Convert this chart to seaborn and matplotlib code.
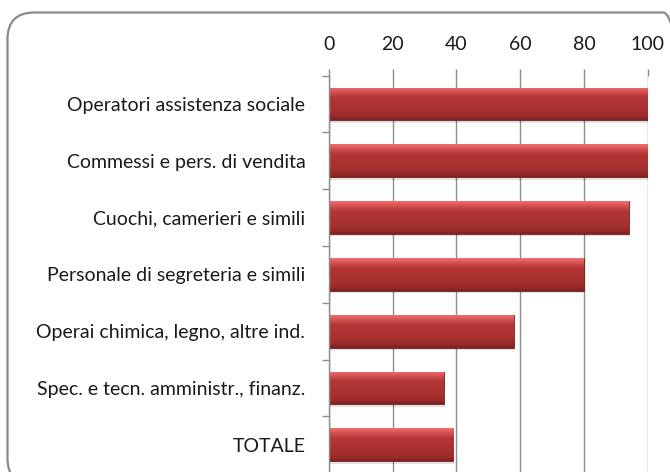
import numpy as np
import pandas as pd
import matplotlib
matplotlib.use("Agg")
import matplotlib.pyplot as plt
import seaborn as sns
from matplotlib.patches import FancyBboxPatch
from matplotlib.colors import LinearSegmentedColormap

categories = [
    "Operatori assistenza sociale",
    "Commessi e pers. di vendita",
    "Cuochi, camerieri e simili",
    "Personale di segreteria e simili",
    "Operai chimica, legno, altre ind.",
    "Spec. e tecn. amministr., finanz.",
    "TOTALE",
]
values = [100, 100, 94, 80, 58, 36, 39]
x_ticks = [0, 20, 40, 60, 80, 100]

df = pd.DataFrame({"cat": categories, "val": values})

sns.set_theme(style="white")
plt.rcParams["font.family"] = ["Lato", "DejaVu Sans"]

fig = plt.figure(figsize=(6.7, 4.72), dpi=100)
ax = fig.add_axes([0.491, -0.0025, 0.4757, 0.8423])

sns.barplot(data=df, y="cat", x="val", orient="h", color="#A93333",
            width=0.58, ax=ax, saturation=1, edgecolor="#7A2020", linewidth=0.6)

ax.set_xlim(0, 100)
ax.set_ylim(len(categories) - 0.5, -0.5)
ax.set_xticks(x_ticks)
ax.set_xticklabels([str(t) for t in x_ticks])
ax.xaxis.tick_top()
ax.xaxis.set_label_position("top")
ax.set_xlabel("")
ax.set_ylabel("")
ax.grid(axis="x", color="#8C8C8C", linewidth=1.0)
ax.set_axisbelow(True)

# y ticks at category boundaries
ax.set_yticks(np.arange(len(categories)))
ax.set_yticklabels(categories)
ax.set_yticks(np.arange(len(categories) + 1) - 0.5, minor=True)
ax.tick_params(axis="y", which="major", length=0, pad=17, labelsize=14, colors="#1a1a1a")
ax.tick_params(axis="y", which="minor", length=5, width=1, color="#8C8C8C", left=True)
ax.tick_params(axis="x", which="major", length=5, width=1, color="#8C8C8C", top=True,
               pad=11, labelsize=14, labelcolor="#1a1a1a")

for s in ["top", "right", "bottom"]:
    ax.spines[s].set_visible(False)
ax.spines["left"].set_color("#8C8C8C")
ax.spines["left"].set_linewidth(1.0)

# gradient fill on bars
cmap = LinearSegmentedColormap.from_list(
    "bev", [(0.0, "#EE7070"), (0.12, "#D95555"), (0.3, "#B33636"),
            (0.7, "#A83030"), (0.9, "#992B2B"), (1.0, "#7A2020")])
grad = np.linspace(0, 1, 64).reshape(-1, 1)
for p in list(ax.patches):
    x0, y0 = p.get_x(), p.get_y()
    w, h = p.get_width(), p.get_height()
    # shadow
    ax.add_patch(plt.Rectangle((x0 + 0.3, y0 + 0.04), w, h, facecolor="#000000",
                               alpha=0.12, edgecolor="none", zorder=p.get_zorder() - 0.1))
    im = ax.imshow(grad, aspect="auto", cmap=cmap, extent=(x0, x0 + w, y0 + h, y0),
                   zorder=p.get_zorder() + 0.05, interpolation="bicubic")
    im.set_clip_path(p)
ax.set_xlim(0, 100)
ax.set_ylim(len(categories) - 0.5, -0.5)

# rounded frame (right and bottom edges fall outside the image)
frame = FancyBboxPatch((7.5 / 670, 1 - 485 / 472), (690 - 7.5) / 670, (485 - 12.5) / 472,
                       boxstyle="round,pad=0,rounding_size=0.04",
                       transform=fig.transFigure, facecolor="none",
                       edgecolor="#8A8A8A", linewidth=1.6, mutation_aspect=670 / 472)
fig.patches.append(frame)

fig.savefig("out.png", dpi=100)
